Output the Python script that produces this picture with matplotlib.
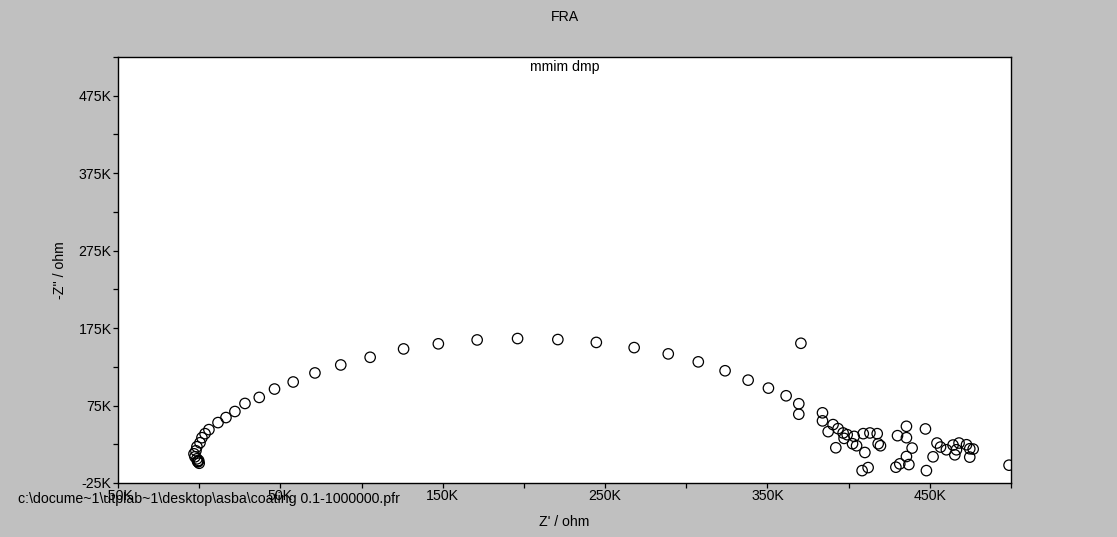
import matplotlib
matplotlib.use("Agg")
import matplotlib.pyplot as plt
from matplotlib.ticker import FixedLocator

# Data: Nyquist points, values in kOhm
z_real_k = [
    -0.7, 0.0, -0.3, -1.0, -1.4, -2.6, -3.2, -2.0, -1.4, 0.5, 1.7, 3.6, 6.0,
    11.6, 16.5, 22.0, 28.2, 37.0, 46.4, 57.9, 71.3, 87.2, 105.3, 125.9, 147.3,
    171.2, 196.1, 220.9, 244.6, 267.9, 288.9, 307.4, 323.9, 338.1, 350.6,
    361.5, 369.3, 369.3, 370.6,
    383.9, 383.9, 387.4, 390.4, 393.5, 396.6, 397.2, 392.1, 399.1, 402.4,
    403.4, 404.9, 409.0, 410.0, 408.3, 412.0, 413.1, 417.6, 418.2, 419.6,
    430.1, 435.6, 435.6, 439.1, 435.6, 437.1, 429.1, 431.5, 447.3, 452.0,
    447.9, 454.4, 456.6, 460.2, 464.3, 466.4, 468.0, 465.4, 472.6, 474.6,
    476.7, 474.6, 498.8,
]
z_imag_k = [
    2.3, 0.5, 4.0, 3.0, 6.2, 8.8, 12.7, 16.6, 21.8, 27.0, 33.5, 38.7, 43.9,
    53.0, 59.5, 67.3, 77.7, 85.5, 96.3, 105.4, 117.1, 127.4, 137.3, 148.1,
    154.7, 159.7, 161.5, 160.2, 156.5, 149.8, 141.7, 131.4, 119.9, 107.8,
    97.5, 87.6, 77.3, 63.8, 155.4,
    65.6, 55.2, 41.3, 50.4, 45.2, 39.6, 32.6, 20.5, 37.4, 25.7,
    35.2, 23.1, 38.7, 14.4, -9.0, -5.1, 39.6, 38.7, 25.7, 23.1,
    36.1, 48.2, 33.5, 20.1, 9.2, -1.2, -4.6, -0.3, 44.8, 8.8,
    -9.0, 26.6, 21.4, 17.9, 24.0, 17.9, 26.6, 11.4, 24.4, 19.2,
    18.8, 8.4, -2.0,
]

x_major = [-50, 50, 150, 250, 350, 450]
x_minor = [0, 100, 200, 300, 400, 500]
x_tick_labels = ["-50K", "50K", "150K", "250K", "350K", "450K"]
y_major = [-25, 75, 175, 275, 375, 475]
y_minor = [25, 125, 225, 325, 425, 525]
y_tick_labels = ["-25K", "75K", "175K", "275K", "375K", "475K"]

title_text = "FRA"
subtitle_text = "mmim dmp"
file_text = "c:\\docume~1\\utplab~1\\desktop\\asba\\coating 0.1-1000000.pfr"
x_label = "Z' / ohm"
y_label = "-Z'' / ohm"

plt.rcParams["font.family"] = ["Liberation Sans", "DejaVu Sans"]
fs = 10.2

W, H = 1117, 537
fig = plt.figure(figsize=(W / 100, H / 100), dpi=100, facecolor="#c0c0c0")
ax = fig.add_axes([118 / W, 54 / H, 893 / W, 426 / H])
ax.set_facecolor("white")

ax.scatter(z_real_k, z_imag_k, s=7.5 ** 2, facecolors="none",
           edgecolors="black", linewidths=0.9, zorder=3)

ax.set_xlim(-50, 500)
ax.set_ylim(-25, 525)

ax.xaxis.set_major_locator(FixedLocator(x_major))
ax.xaxis.set_minor_locator(FixedLocator(x_minor))
ax.set_xticklabels(x_tick_labels)
ax.yaxis.set_major_locator(FixedLocator(y_major))
ax.yaxis.set_minor_locator(FixedLocator(y_minor))
ax.set_yticklabels(y_tick_labels)

ax.tick_params(which="major", direction="out", length=3.6, width=0.9,
               labelsize=fs, pad=1, color="black", labelcolor="black")
ax.tick_params(which="minor", direction="out", length=3.6, width=0.9,
               color="black")
for sp in ax.spines.values():
    sp.set_color("black")
    sp.set_linewidth(1.0)

cx = (118 + 893 / 2) / W
fig.text(cx, 1 - 17 / H, title_text, ha="center", va="center", fontsize=fs)
fig.text(cx, 1 - 67 / H, subtitle_text, ha="center", va="center", fontsize=fs)
fig.text(18 / W, 1 - 499 / H, file_text, ha="left", va="center", fontsize=fs)
fig.text(cx, 1 - 522 / H, x_label, ha="center", va="center", fontsize=fs)
fig.text(60 / W, 1 - 270 / H, y_label, ha="center", va="center",
         rotation=90, fontsize=fs)

fig.savefig("out.png", dpi=100, facecolor=fig.get_facecolor())
